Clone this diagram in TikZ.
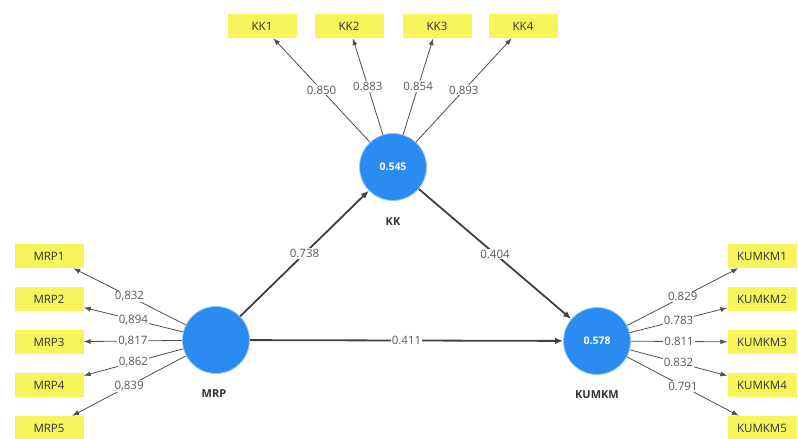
\documentclass[tikz,border=0pt]{standalone}
\usepackage{fontspec}
\setmainfont{Open Sans}
\usetikzlibrary{arrows.meta}
\definecolor{lvblue}{RGB}{42,140,240}
\definecolor{lvring}{RGB}{150,200,250}
\definecolor{mvyellow}{RGB}{248,244,92}
\definecolor{linegray}{RGB}{80,80,80}
\begin{document}
\begin{tikzpicture}[x=1pt,y=-1pt,
  lv/.style={circle, fill=lvblue, draw=lvring, line width=0.8pt, minimum size=67pt, inner sep=0pt, text=white, font=\bfseries\fontsize{10.5}{12}\selectfont},
  mv/.style={rectangle, fill=mvyellow, minimum width=69pt, minimum height=24pt, inner sep=0pt, text=black!80, font=\fontsize{11.5}{13}\selectfont},
  nm/.style={inner sep=1pt, text=black!80, font=\bfseries\fontsize{11}{13}\selectfont},
  ld/.style={draw=linegray, line width=0.8pt, -{Latex[length=7pt,width=5pt]}},
  pth/.style={draw=black!75, line width=1.8pt, -{Latex[length=8pt,width=6.5pt]}},
  lab/.style={fill=white, inner sep=1pt, text=black!65, font=\fontsize{11.5}{13}\selectfont}]
\useasboundingbox[fill=white] (0,0) rectangle (798,439);

% latent variables
\node[lv] (KK) at (393,167) {0.545};
\node[lv] (MRP) at (216,340) {};
\node[lv] (KUMKM) at (597,341) {0.578};
\node[nm] (KKn) at (393,222) {KK};
\node[nm] (MRPn) at (214,394) {MRP};
\node[nm] (KUMKMn) at (597,395) {KUMKM};

% indicators
\node[mv] (KK1) at (262,26) {KK1};
\node[mv] (KK2) at (349,26) {KK2};
\node[mv] (KK3) at (437,26) {KK3};
\node[mv] (KK4) at (523,26) {KK4};

\node[mv] (MRP1) at (49,256) {MRP1};
\node[mv] (MRP2) at (49,299) {MRP2};
\node[mv] (MRP3) at (49,342) {MRP3};
\node[mv] (MRP4) at (49,385) {MRP4};
\node[mv] (MRP5) at (49,428) {MRP5};

\node[mv] (KUMKM1) at (762,256) {KUMKM1};
\node[mv] (KUMKM2) at (762,299) {KUMKM2};
\node[mv] (KUMKM3) at (762,342) {KUMKM3};
\node[mv] (KUMKM4) at (762,385) {KUMKM4};
\node[mv] (KUMKM5) at (762,428) {KUMKM5};

% loadings
\draw[ld] (KK) -- node[lab]{0.850} (KK1);
\draw[ld] (KK) -- node[lab]{0.883} (KK2);
\draw[ld] (KK) -- node[lab]{0.854} (KK3);
\draw[ld] (KK) -- node[lab]{0.893} (KK4);

\draw[ld] (MRP) -- node[lab]{0,832} (MRP1);
\draw[ld] (MRP) -- node[lab]{0,894} (MRP2);
\draw[ld] (MRP) -- node[lab]{0,817} (MRP3);
\draw[ld] (MRP) -- node[lab]{0,862} (MRP4);
\draw[ld] (MRP) -- node[lab]{0,839} (MRP5);

\draw[ld] (KUMKM) -- node[lab]{0.829} (KUMKM1);
\draw[ld] (KUMKM) -- node[lab]{0.783} (KUMKM2);
\draw[ld] (KUMKM) -- node[lab]{0.811} (KUMKM3);
\draw[ld] (KUMKM) -- node[lab]{0.832} (KUMKM4);
\draw[ld] (KUMKM) -- node[lab]{0.791} (KUMKM5);

% structural paths
\draw[pth] (MRP) -- node[lab]{0.738} (KK);
\draw[pth] (KK) -- node[lab]{0.404} (KUMKM);
\draw[pth] (MRP) -- node[lab]{0.411} (KUMKM);
\end{tikzpicture}
\end{document}
